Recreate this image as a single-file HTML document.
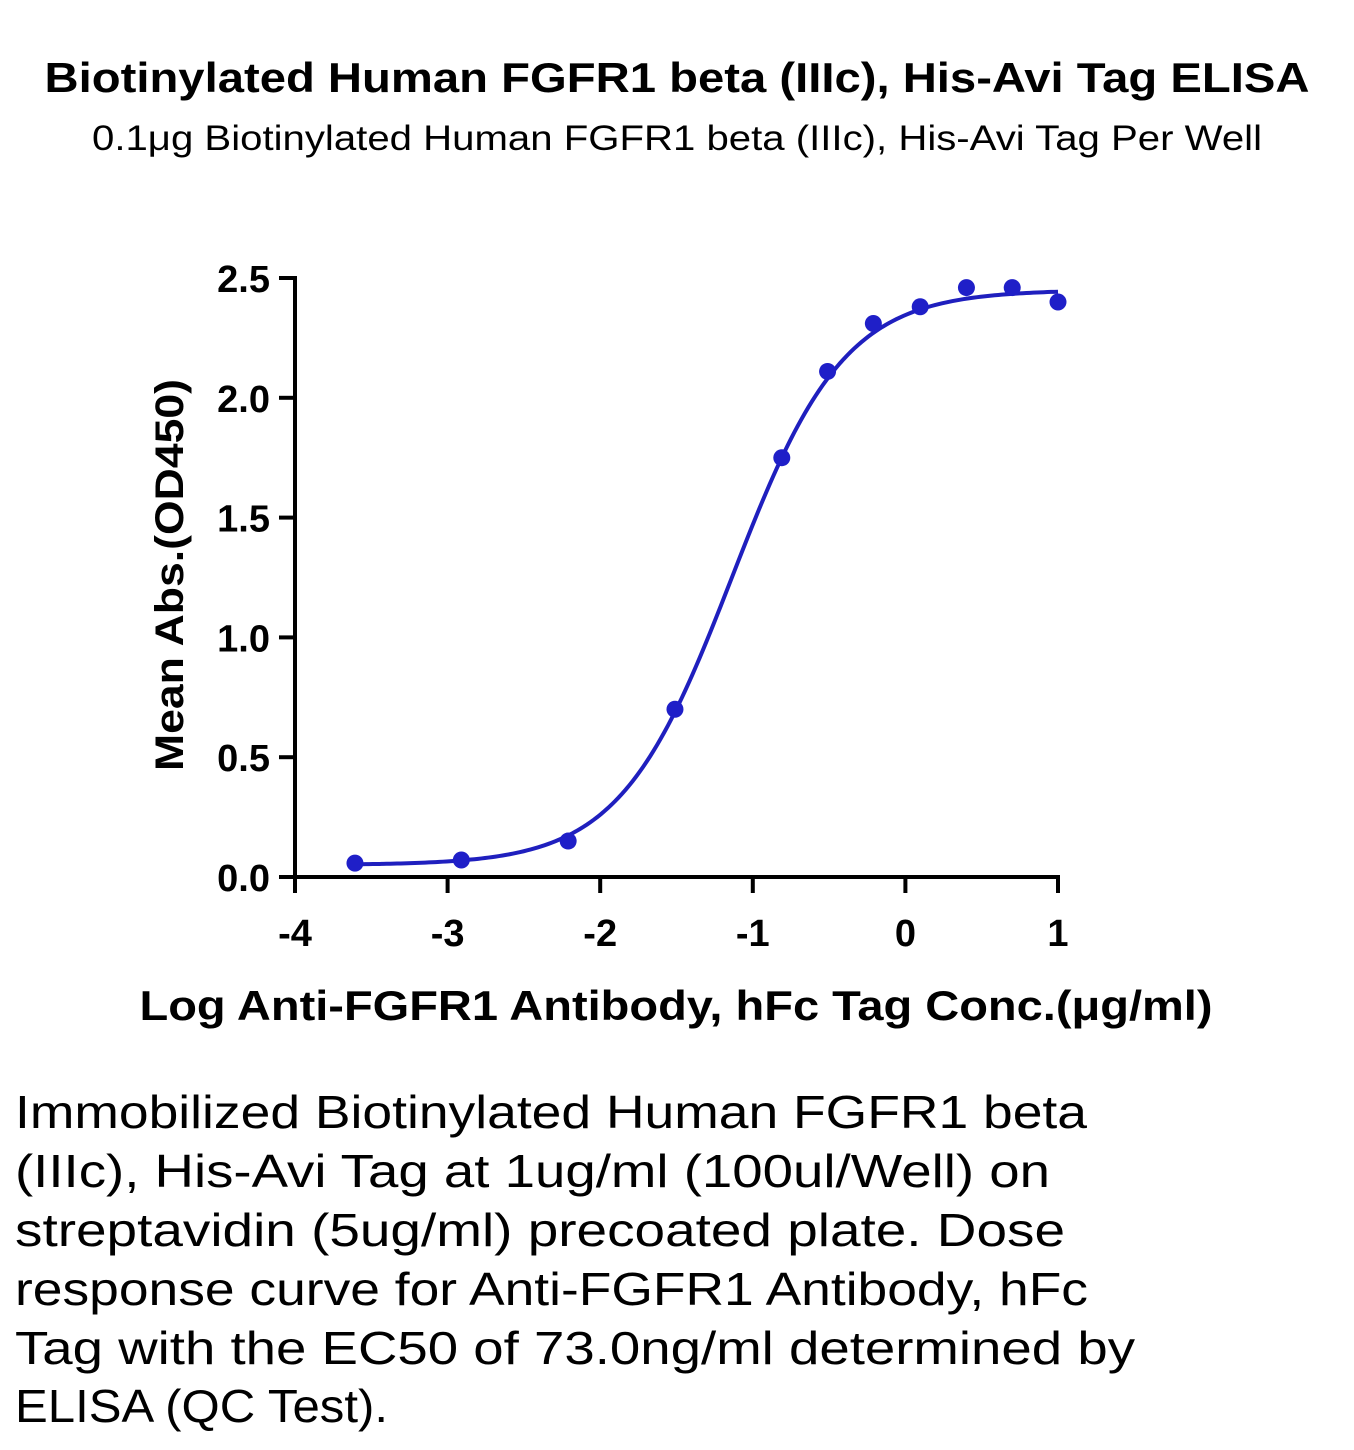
<!DOCTYPE html>
<html><head><meta charset="utf-8"><style>html,body{margin:0;padding:0;background:#fff}svg{display:block}</style></head>
<body>
<svg id="chart" width="1354" height="1450" viewBox="0 0 1354 1450" xmlns="http://www.w3.org/2000/svg" font-family="'Liberation Sans', sans-serif">
<text x="677" y="92" text-anchor="middle" font-weight="bold" font-size="42" textLength="1265" lengthAdjust="spacingAndGlyphs">Biotinylated Human FGFR1 beta (IIIc), His-Avi Tag ELISA</text>
<text x="677" y="150" text-anchor="middle" font-size="35" textLength="1170" lengthAdjust="spacingAndGlyphs">0.1μg Biotinylated Human FGFR1 beta (IIIc), His-Avi Tag Per Well</text>
<g id="axes"></g>
<g id="plot"></g>
<text transform="translate(183,575) rotate(-90)" text-anchor="middle" font-weight="bold" font-size="40" textLength="392" lengthAdjust="spacingAndGlyphs">Mean Abs.(OD450)</text>
<text x="676" y="1020" text-anchor="middle" font-weight="bold" font-size="42" textLength="1073" lengthAdjust="spacingAndGlyphs">Log Anti-FGFR1 Antibody, hFc Tag Conc.(μg/ml)</text>
<g font-size="46">
<text x="15" y="1128" textLength="1072" lengthAdjust="spacingAndGlyphs">Immobilized Biotinylated Human FGFR1 beta</text>
<text x="15" y="1187" textLength="1035" lengthAdjust="spacingAndGlyphs">(IIIc), His-Avi Tag at 1ug/ml (100ul/Well) on</text>
<text x="15" y="1246" textLength="1050" lengthAdjust="spacingAndGlyphs">streptavidin (5ug/ml) precoated plate. Dose</text>
<text x="15" y="1305" textLength="1073" lengthAdjust="spacingAndGlyphs">response curve for Anti-FGFR1 Antibody, hFc</text>
<text x="15" y="1364" textLength="1120" lengthAdjust="spacingAndGlyphs">Tag with the EC50 of 73.0ng/ml determined by</text>
<text x="15" y="1422" textLength="373" lengthAdjust="spacingAndGlyphs">ELISA (QC Test).</text>
</g>
</svg>
<script>
const xTicks = [-4, -3, -2, -1, 0, 1];
const yTicks = [0.0, 0.5, 1.0, 1.5, 2.0, 2.5];
const yTickLabels = ["0.0", "0.5", "1.0", "1.5", "2.0", "2.5"];
const logConc = [-3.607, -2.91, -2.21, -1.51, -0.81, -0.51, -0.21, 0.097, 0.40, 0.70, 1.0];
const meanAbs = [0.058, 0.071, 0.15, 0.70, 1.75, 2.11, 2.31, 2.38, 2.46, 2.46, 2.40];
const fitBottom = [0.05];
const fitTop = [2.45];
const fitLogEC50 = [-1.137];
const fitHill = [1.18];

const NS = "http://www.w3.org/2000/svg";
function xs(v){ return 295 + (v + 4) / 5 * 763; }
function ys(v){ return 877 - v / 2.5 * 599; }
const axes = document.getElementById('axes');
const plot = document.getElementById('plot');
function mk(tag, attrs, parent){ const e = document.createElementNS(NS, tag); for (const k in attrs) e.setAttribute(k, attrs[k]); parent.appendChild(e); return e; }

let e = mk('line', {x1: 295, y1: ys(2.5) - 2, x2: 295, y2: 879, stroke: '#000', 'stroke-width': 4}, axes);


e = mk('line', {x1: 293, y1: 877, x2: 1060, y2: 877, stroke: '#000', 'stroke-width': 4}, axes);



yTicks.forEach((t, i) => {
  const y = ys(t);
  let tk = mk('line', {x1: 279, y1: y, x2: 295, y2: y, stroke: '#000', 'stroke-width': 4}, axes);
  
  
  let lb = mk('text', {x: 270, y: y + 14, 'text-anchor': 'end', 'font-weight': 'bold', 'font-size': 38}, axes);
  lb.textContent = yTickLabels[i];
  
  
});
xTicks.forEach(t => {
  const x = xs(t);
  let tk = mk('line', {x1: x, y1: 877, x2: x, y2: 893, stroke: '#000', 'stroke-width': 4}, axes);
  
  
  let lb = mk('text', {x: x, y: 946, 'text-anchor': 'middle', 'font-weight': 'bold', 'font-size': 38}, axes);
  lb.textContent = String(t);
  
  
});

let d = '';
for (let i = 0; i <= 200; i++) {
  const v = logConc[0] + (logConc[logConc.length - 1] - logConc[0]) * i / 200;
  const yv = fitBottom[0] + (fitTop[0] - fitBottom[0]) / (1 + Math.pow(10, (fitLogEC50[0] - v) * fitHill[0]));
  d += (i ? 'L' : 'M') + xs(v).toFixed(2) + ',' + ys(yv).toFixed(2);
}
let c = mk('path', {d: d, fill: 'none', stroke: '#1f1fbe', 'stroke-width': 4}, plot);


logConc.forEach((v, i) => {
  let p = mk('circle', {cx: xs(v), cy: ys(meanAbs[i]), r: 8.5, fill: '#1f1fc8'}, plot);
  
  
});
</script>
</body></html>
